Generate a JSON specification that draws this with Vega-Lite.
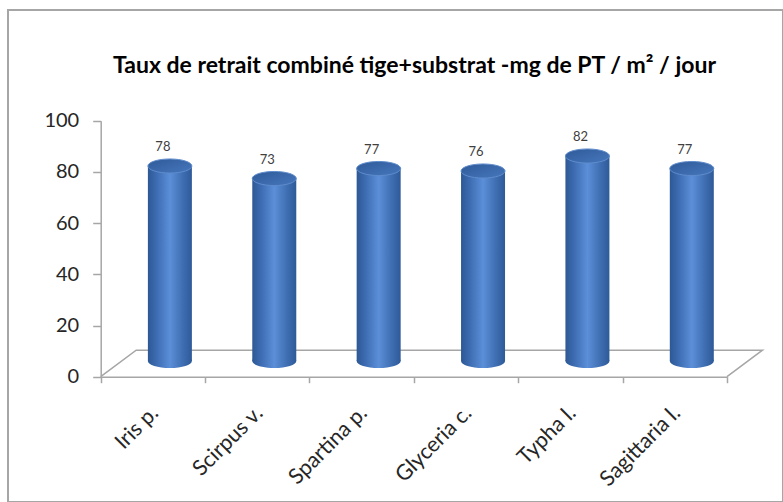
{
  "$schema": "https://vega.github.io/schema/vega-lite/v6.json",
  "width": 775,
  "height": 492,
  "autosize": {"type": "none"},
  "padding": {"left": 8, "top": 10, "right": 0, "bottom": 0},
  "background": "white",
  "config": {
    "view": {"stroke": "#a6a6a6", "strokeWidth": 2},
    "font": "Lato"
  },
  "title": {
    "text": "Taux de retrait combiné tige+substrat -mg de PT / m² / jour",
    "font": "Lato",
    "fontSize": 23,
    "fontWeight": "bold",
    "color": "#000000",
    "anchor": "middle",
    "baseline": "middle",
    "offset": -79,
    "dx": 19
  },
  "data": {
    "values": [
      {"name": "Iris p.", "value": 78},
      {"name": "Scirpus v.", "value": 73},
      {"name": "Spartina p.", "value": 77},
      {"name": "Glyceria c.", "value": 76},
      {"name": "Typha l.", "value": 82},
      {"name": "Sagittaria l.", "value": 77}
    ]
  },
  "resolve": {"scale": {"x": "independent", "y": "independent"}},
  "layer": [
    {
      "data": {
        "values": [
          {"i": 0, "fx": 0, "fy": 0},
          {"i": 1, "fx": 0.34, "fy": 10.35},
          {"i": 2, "fx": 6.34, "fy": 10.35},
          {"i": 3, "fx": 6, "fy": 0}
        ]
      },
      "mark": {"type": "line", "color": "#a6a6a6", "strokeWidth": 1.5},
      "encoding": {
        "x": {"field": "fx", "type": "quantitative", "scale": {"domain": [0, 6], "range": [92.7, 719], "nice": false, "zero": false}, "axis": null},
        "y": {"field": "fy", "type": "quantitative", "scale": {"domain": [0, 100], "range": [366.7, 110.7], "nice": false, "zero": false}, "axis": null},
        "order": {"field": "i", "type": "quantitative"}
      }
    },
    {
      "mark": {"type": "point", "opacity": 0},
      "encoding": {
        "x": {
          "field": "name", "type": "nominal", "sort": null,
          "scale": {"range": [92.7, 719], "paddingInner": 0, "paddingOuter": 0},
          "axis": {
            "title": null, "offset": -125.3, "labelAngle": -45, "labelAlign": "right", "labelBaseline": "middle",
            "labelFontSize": 21.5, "labelFont": "Lato", "labelColor": "#262626", "labelPadding": 27, "labelOffset": 2,
            "tickBand": "extent", "tickSize": 6, "tickColor": "#a6a6a6", "tickWidth": 1.5,
            "domainColor": "#a6a6a6", "domainWidth": 1.5, "grid": false
          }
        },
        "y": {
          "field": "value", "type": "quantitative",
          "scale": {"domain": [0, 100], "range": [366.7, 110.7], "nice": false, "zero": false},
          "axis": {
            "title": null, "offset": -92.7, "values": [0, 20, 40, 60, 80, 100],
            "labelFontSize": 20, "labelFont": "Lato", "labelColor": "#262626", "labelPadding": 14,
            "tickSize": 8, "tickColor": "#a6a6a6", "tickWidth": 1.5,
            "domainColor": "#a6a6a6", "domainWidth": 1.5, "grid": false
          }
        }
      }
    },
    {
      "mark": {
        "type": "point", "filled": true, "opacity": 1, "xOffset": 17, "size": 1936, "strokeWidth": 0,
        "shape": "M-1,0A1,0.32,0,1,0,1,0A1,0.32,0,1,0,-1,0Z",
        "fill": {"gradient": "linear", "x1": 0, "y1": 0, "x2": 1, "y2": 0,
          "stops": [
            {"offset": 0, "color": "#2d5894"},
            {"offset": 0.2, "color": "#3d6cb2"},
            {"offset": 0.5, "color": "#5b8fd8"},
            {"offset": 0.8, "color": "#3e6db1"},
            {"offset": 1, "color": "#2e5a98"}
          ]}
      },
      "encoding": {
        "x": {"field": "name", "type": "nominal", "sort": null, "scale": {"range": [92.7, 719], "paddingInner": 0, "paddingOuter": 0}, "axis": null},
        "y": {"datum": 0, "type": "quantitative", "scale": {"domain": [0, 100], "range": [351, 101], "nice": false, "zero": false}, "axis": null}
      }
    },
    {
      "mark": {
        "type": "bar", "width": 44, "xOffset": 17,
        "fill": {"gradient": "linear", "x1": 0, "y1": 0, "x2": 1, "y2": 0,
          "stops": [
            {"offset": 0, "color": "#2d5894"},
            {"offset": 0.2, "color": "#3d6cb2"},
            {"offset": 0.5, "color": "#5b8fd8"},
            {"offset": 0.8, "color": "#3e6db1"},
            {"offset": 1, "color": "#2e5a98"}
          ]}
      },
      "encoding": {
        "x": {"field": "name", "type": "nominal", "sort": null, "scale": {"range": [92.7, 719], "paddingInner": 0, "paddingOuter": 0}, "axis": null},
        "y": {"field": "value", "type": "quantitative", "scale": {"domain": [0, 100], "range": [351, 101], "nice": false, "zero": false}, "axis": null}
      }
    },
    {
      "mark": {
        "type": "point", "filled": true, "opacity": 1, "xOffset": 17, "size": 1936,
        "shape": "M-1,0A1,0.32,0,1,0,1,0A1,0.32,0,1,0,-1,0Z",
        "stroke": "#5f8ccc", "strokeWidth": 1,
        "fill": {"gradient": "linear", "x1": 0, "y1": 0, "x2": 1, "y2": 1,
          "stops": [
            {"offset": 0, "color": "#2f5a98"},
            {"offset": 1, "color": "#4677bd"}
          ]}
      },
      "encoding": {
        "x": {"field": "name", "type": "nominal", "sort": null, "scale": {"range": [92.7, 719], "paddingInner": 0, "paddingOuter": 0}, "axis": null},
        "y": {"field": "value", "type": "quantitative", "scale": {"domain": [0, 100], "range": [351, 101], "nice": false, "zero": false}, "axis": null}
      }
    },
    {
      "mark": {"type": "text", "dx": 10, "dy": -19, "fontSize": 13, "font": "Lato", "color": "#404040", "baseline": "middle", "align": "center"},
      "encoding": {
        "x": {"field": "name", "type": "nominal", "sort": null, "scale": {"range": [92.7, 719], "paddingInner": 0, "paddingOuter": 0}, "axis": null},
        "y": {"field": "value", "type": "quantitative", "scale": {"domain": [0, 100], "range": [351, 101], "nice": false, "zero": false}, "axis": null},
        "text": {"field": "value", "type": "quantitative"}
      }
    }
  ]
}
